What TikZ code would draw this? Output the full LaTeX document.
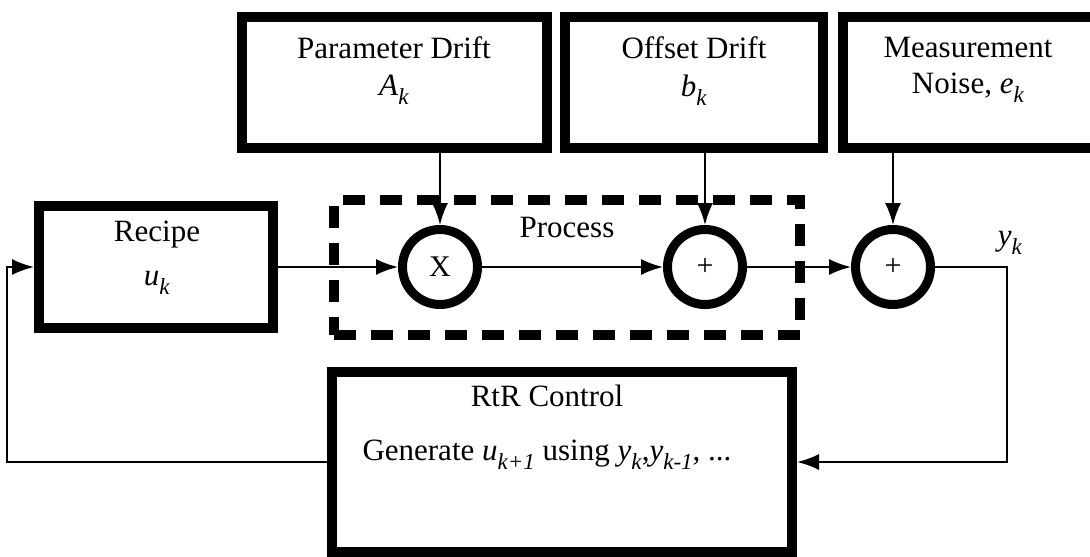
\documentclass[tikz,border=0pt]{standalone}
\usepackage{fontspec}
\setmainfont{Liberation Serif}
\usetikzlibrary{arrows.meta}
\newcommand{\vsub}[2]{\textit{#1}\raisebox{-0.28em}{\fontsize{23}{23}\selectfont\textit{#2}}}

\begin{document}
\begin{tikzpicture}[x=1pt,y=-1pt,
 block/.style={rectangle,draw,line width=10pt,inner sep=0pt},
 sumnode/.style={circle,draw,line width=9pt,minimum size=75pt,inner sep=0pt,font=\fontsize{30}{36}\selectfont},
 txt/.style={inner sep=0pt,font=\fontsize{31}{37}\selectfont},
 sig/.style={line width=2pt,-{Latex[length=22pt,width=16pt]}}]
 \useasboundingbox (0,0) rectangle (1090,557);
 % disturbance blocks
 \node[block,minimum width=305,minimum height=131] (pd) at (394.5,82.5) {};
 \node[txt] (pdname) at (394,48) {Parameter Drift};
 \node[txt] (pdvar) at (394,90) {\vsub{A}{k}};
 \node[block,minimum width=258,minimum height=131] (od) at (694,82.5) {};
 \node[txt] (odname) at (694,48) {Offset Drift};
 \node[txt] (odvar) at (694,90) {\vsub{b}{k}};
 \node[block,minimum width=257,minimum height=131] (mn) at (971.5,82.5) {};
 \node[txt] (mnname) at (968,48) {Measurement};
 \node[txt] (mnvar) at (968,88) {Noise, \vsub{e}{k}};
 % main loop
 \node[block,minimum width=234,minimum height=122] (recipe) at (156,267) {};
 \node[txt] (recipename) at (157,235) {Recipe};
 \node[txt] (recipevar) at (157,283) {\vsub{u}{k}};
 \node[draw,line width=10pt,dash pattern=on 22pt off 15pt,minimum width=466,minimum height=135] (process) at (567,267.5) {};
 \node[txt] (proclabel) at (567,227) {Process};
 \node[sumnode] (mult) at (440,267) {X};
 \node[sumnode] (add1) at (705,267) {+};
 \node[sumnode] (add2) at (893,267) {+};
 \coordinate (yk) at (1007,267);
 \node[txt] (yklabel) at (1010,243) {\vsub{y}{k}};
 \node[block,minimum width=460,minimum height=180] (ctrl) at (562,462) {};
 \node[txt] (ctrltitle) at (547,396) {RtR Control};
 \node[txt] (ctrlrule) at (547,455) {Generate \vsub{u}{k+1} using \vsub{y}{k},\vsub{y}{k-1}, ...};
 \coordinate (fb) at (7,267);
 \draw[sig] (pd.south -| mult) -- (mult);
 \draw[sig] (od.south -| add1) -- (add1);
 \draw[sig] (mn.south -| add2) -- (add2);
 \draw[sig] (recipe) -- (mult);
 \draw[sig] (mult) -- (add1);
 \draw[sig] (add1) -- (add2);
 \draw[sig] (add2) -- (yk) |- (ctrl);
 \draw[sig] (ctrl) -| (fb) -- (recipe);
\end{tikzpicture}
\end{document}
